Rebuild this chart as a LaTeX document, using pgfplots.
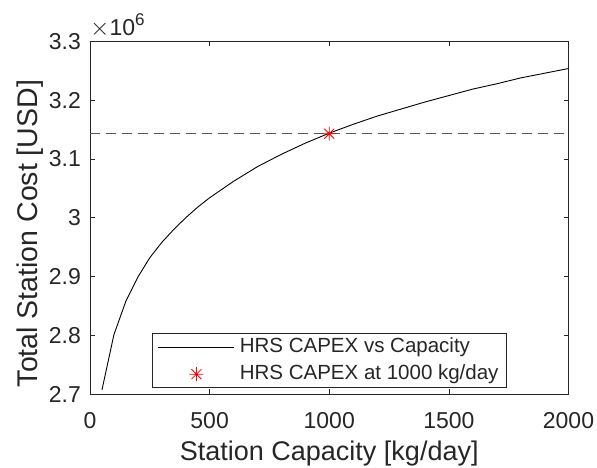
\documentclass[border=0pt]{standalone}
\usepackage{fontspec}
\setmainfont{Liberation Sans}
\usepackage{pgfplots}
\pgfplotsset{compat=1.18}
\definecolor{axc}{rgb}{0.15,0.15,0.15}
\definecolor{dashc}{rgb}{0.35,0.35,0.35}
\pgfdeclareplotmark{mstar}{%
  \pgfpathmoveto{\pgfqpoint{-\pgfplotmarksize}{0pt}}\pgfpathlineto{\pgfqpoint{\pgfplotmarksize}{0pt}}%
  \pgfpathmoveto{\pgfqpoint{0pt}{-\pgfplotmarksize}}\pgfpathlineto{\pgfqpoint{0pt}{\pgfplotmarksize}}%
  \pgfpathmoveto{\pgfqpoint{-0.7071\pgfplotmarksize}{-0.7071\pgfplotmarksize}}\pgfpathlineto{\pgfqpoint{0.7071\pgfplotmarksize}{0.7071\pgfplotmarksize}}%
  \pgfpathmoveto{\pgfqpoint{-0.7071\pgfplotmarksize}{0.7071\pgfplotmarksize}}\pgfpathlineto{\pgfqpoint{0.7071\pgfplotmarksize}{-0.7071\pgfplotmarksize}}%
  \pgfusepathqstroke}
\pgfplotsset{
  lineleg/.style={legend image code/.code={\draw[##1] (0pt,0pt) -- (76pt,0pt);}},
  markleg/.style={legend image code/.code={\path[draw=none] (0pt,0pt) (76pt,0pt); \draw[##1] plot[only marks] coordinates {(38pt,0pt)};}},
}
\begin{document}
\begin{tikzpicture}
\begin{axis}[
  at={(0pt,0pt)}, anchor=south west,
  scale only axis, width=478.5pt, height=352.5pt,
  xmin=0, xmax=2000, ymin=2.7, ymax=3.3,
  xtick={0,500,1000,1500,2000},
  xticklabels={0,500,1000,1500,2000},
  ytick={2.7,2.8,2.9,3.0,3.1,3.2,3.3},
  yticklabels={2.7,2.8,2.9,3,3.1,3.2,3.3},
  tick align=inside, major tick length=5pt,
  tick style={axc, line width=0.6pt},
  axis line style={axc, line width=0.8pt},
  ticklabel style={font=\fontsize{23}{23}\selectfont, text=axc},
  xticklabel style={anchor=base, yshift=-34.2pt},
  yticklabel style={anchor=east, inner xsep=0pt, xshift=-9pt},
  xlabel={Station Capacity [kg/day]},
  ylabel={Total Station Cost [USD]},
  label style={text=axc},
  xlabel style={font=\fontsize{27}{27}\selectfont, at={(axis description cs:0.5,-0.1895)}, anchor=base},
  ylabel style={font=\fontsize{28.5}{28.5}\selectfont, at={(axis description cs:-0.110,0.455)}, anchor=base},
  legend cell align=left,
  legend style={at={(axis description cs:0.5,0.017)}, anchor=south, draw=axc, line width=0.6pt, fill=white,
    inner xsep=6pt, inner ysep=4pt, font=\fontsize{20.5}{20.5}\selectfont, text=axc,
    nodes={inner xsep=2pt, inner ysep=0pt, text height=15pt, text depth=4pt},
    row sep=8pt, column sep=3pt},
  clip=false,
]
\addplot[black, line width=0.9pt, lineleg]
 coordinates {(50,2.707) (100,2.801) (150,2.858) (200,2.899) (250,2.932) (300,2.958) (350,2.980) (400,3.000) (450,3.018) (500,3.034) (600,3.062) (700,3.087) (800,3.108) (900,3.127) (1000,3.144) (1100,3.159) (1200,3.173) (1300,3.185) (1400,3.197) (1500,3.208) (1600,3.219) (1700,3.228) (1800,3.238) (1900,3.246) (2000,3.254)};
\addlegendentry{HRS CAPEX vs Capacity}
\addplot[dashc, line width=0.8pt, dash pattern=on 10pt off 6pt, forget plot]
 coordinates {(0,3.143) (2000,3.143)};
\addplot[only marks, mark=mstar, mark size=7pt, red, line width=0.8pt, markleg]
 coordinates {(1000,3.143)};
\addlegendentry{HRS CAPEX at 1000 kg/day}
\node[anchor=base west, inner sep=0pt, text=axc] at (axis description cs:0.0,1.0184)
 {{\fontsize{23}{23}\selectfont $\times$10}\raisebox{10pt}{\fontsize{17}{17}\selectfont 6}};
\end{axis}
\pgfresetboundingbox
\path (-90pt,-74pt) rectangle (507pt,394pt);
\end{tikzpicture}
\end{document}
